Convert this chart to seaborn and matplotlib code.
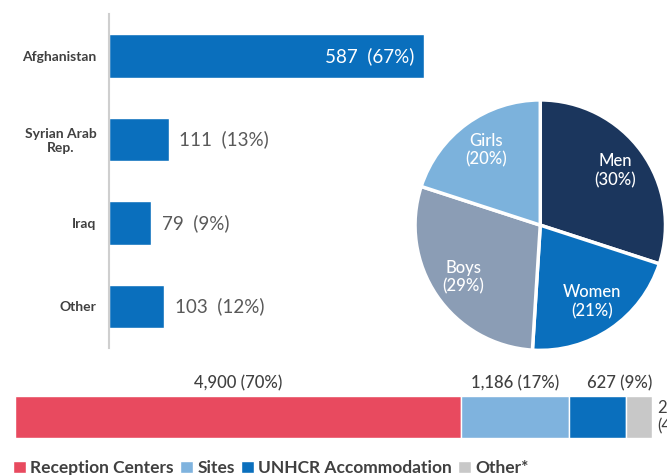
import numpy as np
import pandas as pd
import seaborn as sns
import matplotlib.pyplot as plt

# --- data ---
countries = ['Afghanistan', 'Syrian Arab\nRep.', 'Iraq', 'Other']
country_counts = [587, 111, 79, 103]
country_pct = [67, 13, 9, 12]

pie_groups = ['Men', 'Women', 'Boys', 'Girls']
pie_pct = [30, 21, 29, 20]

sites = ['Reception Centers', 'Sites', 'UNHCR Accommodation', 'Other*']
site_counts = [4900, 1186, 627, 287]
site_pct = [70, 17, 9, 4]

BLUE = '#0a6fbd'
pie_colors = ['#1b365d', '#0a6fbd', '#8b9db5', '#7cb2dc']
site_colors = ['#e84a5f', '#7fb3de', '#0a6fbd', '#c8c8c8']

sns.set_style('white')
plt.rcParams['font.family'] = ['Lato', 'DejaVu Sans']

fig = plt.figure(figsize=(6.67, 4.75), dpi=100)

# horizontal bars by country
ax = fig.add_axes([0.1634, 0.267, 0.564, 0.703])
df = pd.DataFrame({'country': countries, 'count': country_counts})
sns.barplot(data=df, x='count', y='country', color=BLUE, width=0.52,
            saturation=1, ax=ax)
ax.set_xlim(0, 700)
ax.set_ylim(3.5, -0.5)
ax.set_xlabel('')
ax.set_ylabel('')
ax.set_xticks([])
for s in ['top', 'right', 'bottom']:
    ax.spines[s].set_visible(False)
ax.spines['left'].set_color('#cfcfcf')
ax.spines['left'].set_linewidth(1.5)
ax.tick_params(axis='y', which='major', length=0, pad=9)
ax.set_yticks(np.arange(-0.5, 4, 1), minor=True)
ax.tick_params(axis='y', which='minor', length=4, color='#cfcfcf', width=1.2)
for lab in ax.get_yticklabels():
    lab.set_fontweight('bold')
    lab.set_fontsize(10)
    lab.set_color('#404040')
    lab.set_multialignment('center')
for i, (c, p) in enumerate(zip(country_counts, country_pct)):
    txt = f'{c}  ({p}%)'
    if c > 300:
        ax.text(c - 18, i, txt, ha='right', va='center', color='white', fontsize=13.5)
    else:
        ax.text(c + 20, i, txt, ha='left', va='center', color='#595959', fontsize=13.5)

# pie by age / sex
pax = fig.add_axes([0.624, 0.265, 0.372, 0.522])
wedges, texts = pax.pie(pie_pct, colors=pie_colors, startangle=90, counterclock=False,
                        labels=[f'{g}\n({p}%)' for g, p in zip(pie_groups, pie_pct)],
                        labeldistance=0.74,
                        wedgeprops=dict(edgecolor='white', linewidth=2.5))
for t in texts:
    t.set_ha('center')
    t.set_va('center')
    t.set_color('white')
    t.set_fontsize(12)
    t.set_fontweight('medium')
pax.set_xlim(-0.99, 0.99)
pax.set_ylim(-0.99, 0.99)
pax.set_aspect('equal')

# stacked bar by accommodation type
bax = fig.add_axes([0.0225, 0.078, 0.955, 0.0884])
lefts = np.concatenate([[0], np.cumsum(site_counts)[:-1]])
total = sum(site_counts)
for name, c, l, col in zip(sites, site_counts, lefts, site_colors):
    bax.barh(0, c, left=l, height=1.0, color=col, label=name)
bax.set_xlim(0, total)
bax.set_ylim(-0.5, 0.5)
bax.axis('off')
for c, p, l in zip(site_counts[:2], site_pct[:2], lefts[:2]):
    bax.text(l + c / 2, 0.6, f'{c:,} ({p}%)', ha='center', va='bottom',
             fontsize=12, color='#404040', fontweight='medium', clip_on=False)
bax.text(total, 0.6, f'{site_counts[2]} ({site_pct[2]}%)', ha='right', va='bottom',
         fontsize=12, color='#404040', fontweight='medium', clip_on=False)
bax.text(total + 60, 0, f'{site_counts[3]}\n({site_pct[3]}%)',
         ha='left', va='center', fontsize=12, color='#404040', clip_on=False)

handles, labels = bax.get_legend_handles_labels()
fig.legend(handles, labels, loc='lower left', bbox_to_anchor=(-0.004, -0.035), ncol=4,
           frameon=False, handlelength=0.75, handleheight=0.75, handletextpad=0.25,
           columnspacing=0.35, prop={'size': 12.5, 'weight': 'bold'}, labelcolor='#404040')

fig.savefig('out.png', dpi=100)
